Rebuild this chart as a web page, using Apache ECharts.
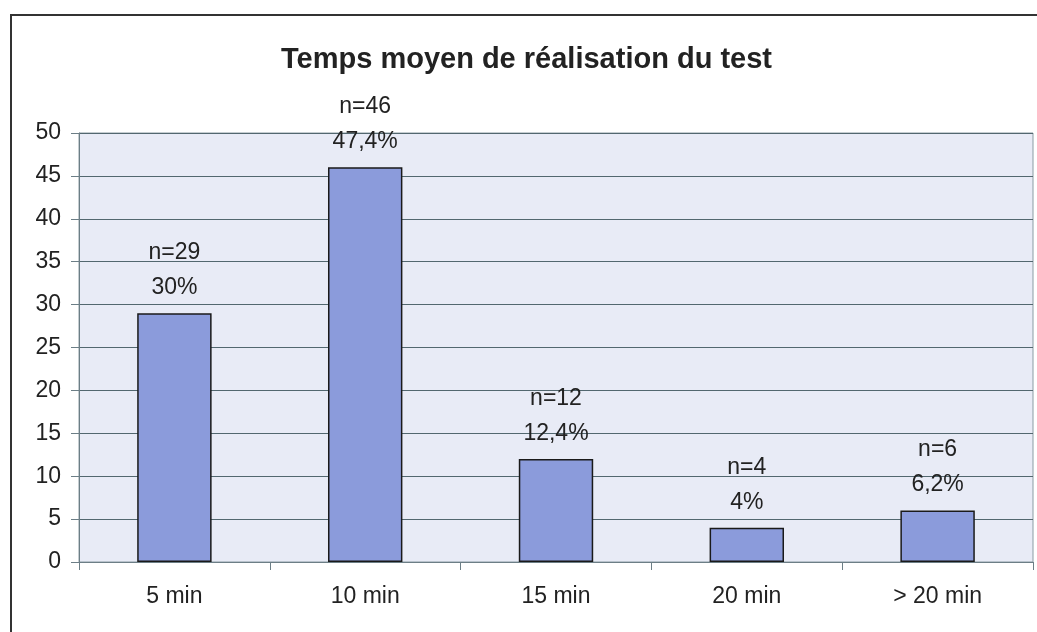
<!DOCTYPE html>
<html>
<head>
<meta charset="utf-8">
<script src="https://cdn.jsdelivr.net/npm/echarts@6/dist/echarts.min.js"></script>
<style>
  html, body { margin: 0; padding: 0; background: #fff; }
  #main { width: 1037px; height: 632px; }
</style>
</head>
<body>
<div id="main"></div>
<script>
const categories = ['5 min', '10 min', '15 min', '20 min', '> 20 min'];
const counts = [29, 46, 12, 4, 6];
const percents = ['30%', '47,4%', '12,4%', '4%', '6,2%'];
const yTicks = [0, 50, 5]; // min, max, interval

const FONT = 'Liberation Sans, Arial, sans-serif';
const GRID_LINE = '#52676f';

var myChart = echarts.init(document.getElementById('main'));

let option = {
    backgroundColor: '#fff',
    animation: false,
    title: {
        text: 'Temps moyen de réalisation du test',
        left: 276,
        top: 40,
        textStyle: {
            fontFamily: FONT,
            fontWeight: 'bold',
            fontSize: 29,
            color: '#222'
        }
    },
    grid: {
        left: 79,
        right: 4,
        top: 133,
        bottom: 70,
        show: true,
        backgroundColor: '#e8ebf6',
        borderColor: '#8a9ba3',
        borderWidth: 1
    },
    graphic: [{
        type: 'rect',
        shape: { x: 11, y: 15, width: 1060, height: 700 },
        style: { fill: 'none', stroke: '#333', lineWidth: 2 },
        z: 100
    }],
    xAxis: {
        type: 'category',
        data: categories,
        axisLine: { lineStyle: { color: '#6c7e86', width: 1 } },
        axisTick: { show: true, length: 8, lineStyle: { color: '#6c7e86' } },
        axisLabel: {
            margin: 23,
            fontFamily: FONT,
            fontSize: 23,
            color: '#222'
        }
    },
    yAxis: {
        type: 'value',
        min: yTicks[0],
        max: yTicks[1],
        interval: yTicks[2],
        axisLine: { show: true, lineStyle: { color: '#6c7e86', width: 1 } },
        axisTick: { show: true, length: 8, lineStyle: { color: '#6c7e86' } },
        axisLabel: {
            margin: 18,
            fontFamily: FONT,
            fontSize: 23,
            color: '#222'
        },
        splitLine: { lineStyle: { color: GRID_LINE, width: 1 } }
    },
    series: [{
        type: 'bar',
        data: counts,
        barWidth: '39%',
        itemStyle: {
            color: '#8b9bdb',
            borderColor: '#1a1a1a',
            borderWidth: 1.5
        },
        label: {
            show: true,
            position: 'top',
            distance: 8,
            fontFamily: FONT,
            fontSize: 23,
            lineHeight: 35,
            color: '#222',
            formatter: function (p) {
                return 'n=' + counts[p.dataIndex] + '\n' + percents[p.dataIndex];
            }
        }
    }]
};

myChart.setOption(option);
</script>
</body>
</html>
